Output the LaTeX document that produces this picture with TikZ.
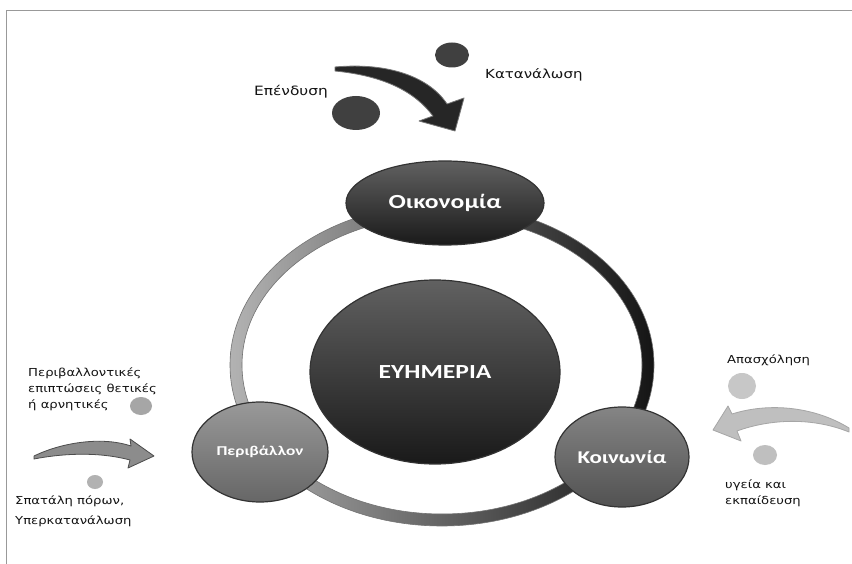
\documentclass[tikz,border=0pt]{standalone}
\usepackage{fontspec}
\usepackage{graphicx}
\setmainfont{DejaVu Sans}
\newfontfamily\titlefont{Carlito}
\newcommand{\hstretch}[1]{\scalebox{1.2}[1]{#1}}
\newcommand{\tstretch}[1]{\scalebox{1.28}[1]{#1}}
\usetikzlibrary{shapes.geometric}
\begin{document}
\begin{tikzpicture}[x=1pt,y=-1pt,
  lbl/.style={font=\fontsize{11}{16}\selectfont, text=black!92, inner sep=0pt, align=left},
  hub/.style={ellipse, draw=black!80, line width=1.2pt, text=white, inner sep=0pt},
  darkhub/.style={hub, top color=black!62, bottom color=black!90},
  greyhub/.style={hub, top color=black!40, bottom color=black!60},
  dot/.style={ellipse, inner sep=0pt, draw=none},
  bigarrow/.style={line width=0.8pt, line join=round}
 ]
\useasboundingbox (0,0) rectangle (852,564);
\fill[white] (0,0) rectangle (852,564);
\draw[black!40, line width=1.5pt] (6.5,564) -- (6.5,10.5) -- (852,10.5);

% ring
\path[even odd rule, left color=black!30, right color=black!92]
  (442,365) ellipse [x radius=212, y radius=161]
  (442,365) ellipse [x radius=200, y radius=149];
\draw[black!55, line width=0.6pt] (442,365) ellipse [x radius=212, y radius=161];
\draw[black!55, line width=0.6pt] (442,365) ellipse [x radius=200, y radius=149];

% hubs
\node[darkhub, minimum width=250, minimum height=184] (center) at (435,372)
  {\titlefont\bfseries\fontsize{20}{24}\selectfont\tstretch{ΕΥΗΜΕΡΙΑ}};
\node[darkhub, minimum width=198, minimum height=84] (econ) at (445,203)
  {\titlefont\bfseries\fontsize{20}{24}\selectfont\tstretch{Οικονομία}};
\node[greyhub, minimum width=136, minimum height=100] (envn) at (260,452)
  {\titlefont\bfseries\fontsize{13.5}{16}\selectfont\tstretch{Περιβάλλον}};
\node[hub, top color=black!48, bottom color=black!68, minimum width=134, minimum height=100] (soc) at (622,457)
  {\titlefont\bfseries\fontsize{18}{22}\selectfont\tstretch{Κοινωνία}};

% top arrow
\path[bigarrow, fill=black!85, draw=black!55]
  (335,67) .. controls (390,62) and (430,78) .. (447,104)
  -- (464,98) -- (455,131) -- (419,121) -- (433,116)
  .. controls (415,92) and (385,76) .. (335,71) -- cycle;
% left arrow
\path[bigarrow, fill=black!45, draw=black!70]
  (34,456) .. controls (65,441) and (105,437) .. (131,446)
  -- (130,439) -- (154,456) -- (128,468) -- (130,460)
  .. controls (100,452) and (65,453) .. (34,459) -- cycle;
% right arrow
\path[bigarrow, fill=black!25, draw=black!35]
  (849,428) .. controls (815,407) and (770,402) .. (732,414)
  -- (728,406) -- (713,430) -- (741,441) -- (737,431)
  .. controls (770,419) and (812,417) .. (849,432) -- cycle;

% dots
\node[dot, fill=black!75, minimum width=34, minimum height=25] (d1) at (452,55) {};
\node[dot, fill=black!75, minimum width=48, minimum height=34] (d2) at (356,113) {};
\node[dot, fill=black!35, minimum width=22, minimum height=18] (d3) at (141,406) {};
\node[dot, fill=black!30, minimum width=16, minimum height=14] (d4) at (95,482) {};
\node[dot, fill=black!22, minimum width=28, minimum height=26] (d5) at (742,386) {};
\node[dot, fill=black!25, minimum width=24, minimum height=20] (d6) at (765,455) {};

% labels
\node[lbl, anchor=west, font=\fontsize{12.8}{16}\selectfont] (inv) at (254,92) {\hstretch{Επένδυση}};
\node[lbl, anchor=west, font=\fontsize{12.5}{16}\selectfont] (cons) at (485,75) {\hstretch{Κατανάλωση}};
\node[lbl, anchor=west] (envtxt) at (28,389)
  {\hstretch{Περιβαλλοντικές}\\\hstretch{επιπτώσεις θετικές}\\\hstretch{ή αρνητικές}};
\node[lbl, anchor=west, font=\fontsize{11}{20}\selectfont] (waste) at (15,511)
  {\hstretch{Σπατάλη πόρων,}\\\hstretch{Υπερκατανάλωση}};
\node[lbl, anchor=west] (job) at (727,360) {\hstretch{Απασχόληση}};
\node[lbl, anchor=west] (health) at (725,493)
  {\hstretch{υγεία και}\\\hstretch{εκπαίδευση}};
\end{tikzpicture}
\end{document}
